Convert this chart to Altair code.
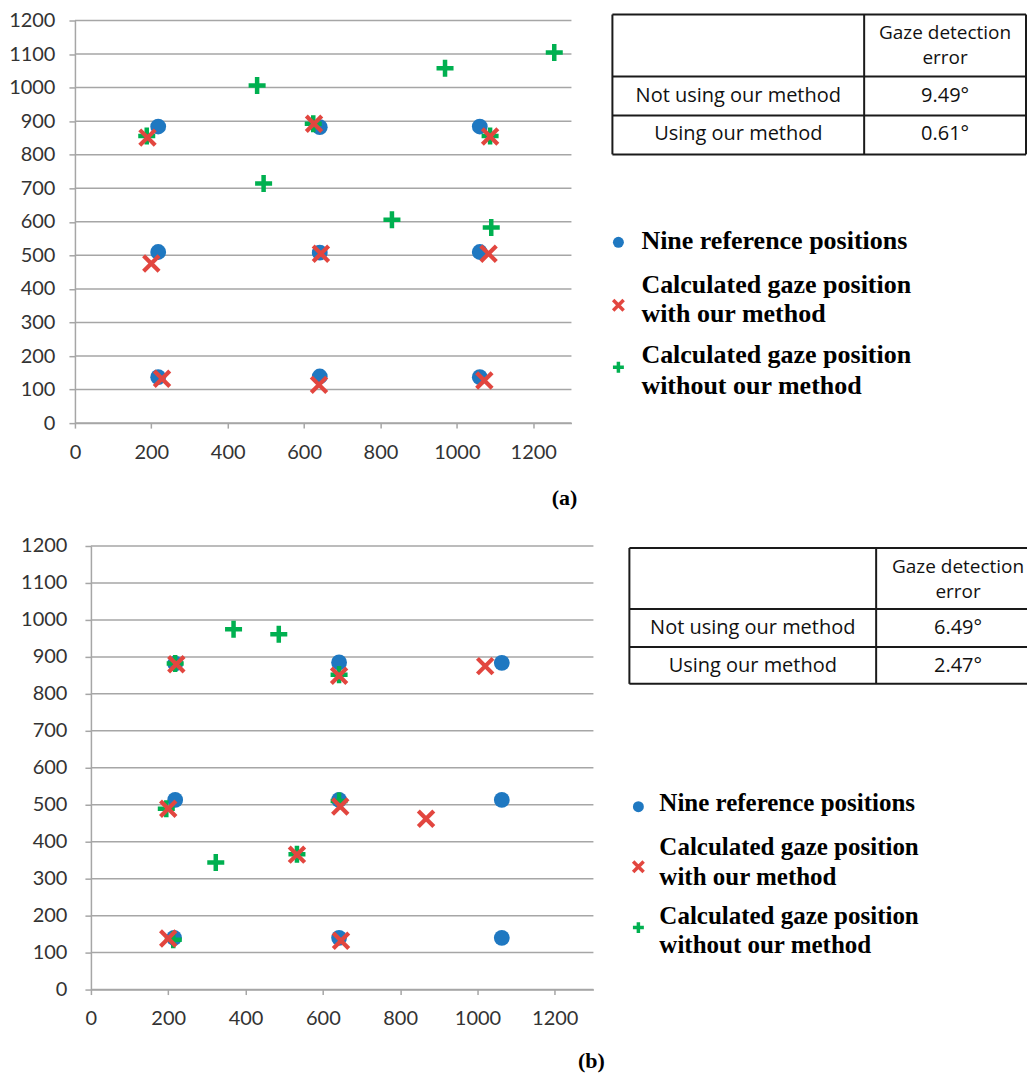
import altair as alt
import pandas as pd

# ---------------- data ----------------
# panel (a)
ref_a_x = [218, 641, 1060, 218, 641, 1060, 218, 641, 1060]
ref_a_y = [884, 882, 884, 510, 508, 510, 137, 139, 137]
with_a_x = [190, 626, 1087, 200, 644, 1083, 228, 639, 1072]
with_a_y = [851, 892, 854, 476, 505, 505, 132, 114, 127]
without_a_x = [188, 624, 1087, 477, 969, 1255, 494, 830, 1090]
without_a_y = [856, 892, 856, 1006, 1058, 1105, 714, 606, 583]

# panel (b)
ref_b_x = [218, 642, 1063, 218, 642, 1063, 215, 642, 1063]
ref_b_y = [882, 885, 884, 513, 513, 513, 140, 140, 140]
with_b_x = [221, 642, 1020, 200, 645, 867, 533, 200, 647]
with_b_y = [880, 849, 875, 489, 495, 462, 365, 138, 132]
without_b_x = [218, 642, 369, 486, 195, 642, 323, 533, 213]
without_b_y = [882, 852, 975, 961, 489, 510, 344, 366, 135]

x_ticks = [0, 200, 400, 600, 800, 1000, 1200]
y_ticks = [0, 100, 200, 300, 400, 500, 600, 700, 800, 900, 1000, 1100, 1200]

table_header = ["Gaze detection", "error"]
table_rows = ["Not using our method", "Using our method"]
errors_a = ["9.49°", "0.61°"]
errors_b = ["6.49°", "2.47°"]
legend_ref = ["Nine reference positions"]
legend_with = ["Calculated gaze position", "with our method"]
legend_without = ["Calculated gaze position", "without our method"]
panel_labels = ["(a)", "(b)"]

# ---------------- styles ----------------
BLUE = "#1f78c1"
RED = "#e2463f"
GREEN = "#00b050"
GRID = "#a6a6a6"
AXC = "#333333"
TABC = "#1a1a1a"
AXF = "Lato"
TABF = "Open Sans"
LEGF = "Liberation Serif"
X_PATH = "M-1,-1L1,1M1,-1L-1,1"
P_PATH = "M-1,0L1,0M0,-1L0,1"
ONE = alt.Data(values=[{"k": 0}])


def hline(x1, x2, y, color=TABC, w=2):
    return alt.Chart(ONE).mark_rule(color=color, strokeWidth=w).encode(
        x=alt.value(x1), x2=alt.value(x2), y=alt.value(y))


def vline(x, y1, y2, color=TABC, w=2):
    return alt.Chart(ONE).mark_rule(color=color, strokeWidth=w).encode(
        x=alt.value(x), y=alt.value(y1), y2=alt.value(y2))


def txt(x, y, s, font, size, weight="normal", align="center", color="#111111"):
    return alt.Chart(ONE).mark_text(font=font, fontSize=size, fontWeight=weight,
                                    align=align, baseline="middle", color=color).encode(
        x=alt.value(x), y=alt.value(y), text=alt.value(s))


def sym(x, y, shape, color, size, filled, sw=0):
    kw = dict(shape=shape, size=size, filled=filled, color=color, opacity=1)
    if not filled:
        kw["strokeWidth"] = sw
    return alt.Chart(ONE).mark_point(**kw).encode(x=alt.value(x), y=alt.value(y))


def panel(refx, refy, wx, wy, wox, woy, PW, H, dx, L, errors, plabel):
    # dx: horizontal shift of the plot area inside the panel frame
    xs = alt.Scale(domain=[0, 1300], range=[dx, dx + PW], nice=False, zero=False)
    ys = alt.Scale(domain=[0, 1200], nice=False, zero=False)
    xax = alt.Axis(values=x_ticks, format="d", grid=False, title=None, domainColor=GRID,
                   domainWidth=1.5, tickColor=GRID, tickWidth=1.5, tickSize=5,
                   labelFont=AXF, labelFontSize=20, labelColor=AXC,
                   labelPadding=L["xpad"], labelFlush=False, labelOverlap=False)
    yax = alt.Axis(values=y_ticks, format="d", grid=False, offset=-dx,
                   title=None, domainColor=GRID, domainWidth=1.5, tickColor=GRID,
                   tickWidth=1.5, tickSize=6, labelFont=AXF, labelFontSize=20,
                   labelColor=AXC, labelPadding=L["ypad"], labelFlush=False,
                   labelOverlap=False)

    def enc(c):
        return c.encode(x=alt.X("x:Q", scale=xs, axis=xax),
                        y=alt.Y("y:Q", scale=ys, axis=yax))

    grid = alt.Chart(pd.DataFrame({"y": y_ticks})).mark_rule(
        color=GRID, strokeWidth=1.5).encode(
        y=alt.Y("y:Q", scale=ys, axis=yax), x=alt.value(dx), x2=alt.value(dx + PW))
    ref = enc(alt.Chart(pd.DataFrame({"x": refx, "y": refy})).mark_point(
        shape="circle", filled=True, size=250, color=BLUE, opacity=1))
    wo = enc(alt.Chart(pd.DataFrame({"x": wox, "y": woy})).mark_point(
        shape=P_PATH, filled=False, size=290, strokeWidth=4.5, color=GREEN, opacity=1))
    w = enc(alt.Chart(pd.DataFrame({"x": wx, "y": wy})).mark_point(
        shape=X_PATH, filled=False, size=240, strokeWidth=4.2, color=RED, opacity=1))

    layers = [grid, ref, wo, w]
    # table
    t = L["tab"]
    layers += [hline(t["x1"] + dx, t["x2"] + dx, y) for y in t["rows"]]
    layers += [vline(x + dx, t["rows"][0], t["rows"][-1]) for x in t["cols"]]
    c1 = (t["cols"][0] + t["cols"][1]) / 2 + dx
    c2 = t["c2"] + dx
    layers += [txt(c2, t["hy"][0], table_header[0], TABF, 19),
               txt(c2, t["hy"][1], table_header[1], TABF, 19),
               txt(c1, t["ry"][0], table_rows[0], TABF, 20),
               txt(c2, t["ry"][0], errors[0], TABF, 20),
               txt(c1, t["ry"][1], table_rows[1], TABF, 20),
               txt(c2, t["ry"][1], errors[1], TABF, 20)]
    # legend
    g = L["leg"]
    fs = g["fs"]
    sx = g["sx"] + dx
    tx = g["tx"] + dx
    layers += [sym(sx, g["dot"], "circle", BLUE, 120, True),
               sym(sx, g["xm"], X_PATH, RED, 110, False, 3.5),
               sym(sx, g["pm"], P_PATH, GREEN, 120, False, 3.5),
               txt(tx, g["ly"][0], legend_ref[0], LEGF, fs, "bold", "left", "#000000"),
               txt(tx, g["ly"][1], legend_with[0], LEGF, fs, "bold", "left", "#000000"),
               txt(tx, g["ly"][2], legend_with[1], LEGF, fs, "bold", "left", "#000000"),
               txt(tx, g["ly"][3], legend_without[0], LEGF, fs, "bold", "left", "#000000"),
               txt(tx, g["ly"][4], legend_without[1], LEGF, fs, "bold", "left", "#000000")]
    # panel label
    layers.append(txt(L["plab"][0] + dx, L["plab"][1], plabel, LEGF, 22, "bold",
                      "center", "#000000"))
    # invisible layout anchors
    for (ax, ay) in L["anchors"]:
        layers.append(hline(ax, ax + 4, ay, color="#ffffff", w=1))
    return alt.layer(*layers).properties(width=PW + dx, height=H)


LA = {
    "xpad": 14, "ypad": 14,
    "tab": {"x1": 538, "x2": 952, "rows": [-6, 56, 95, 134], "cols": [538, 790, 952],
            "c2": 871, "hy": [13, 38], "ry": [76, 114]},
    "leg": {"fs": 26, "sx": 544, "dot": 222, "xm": 285, "pm": 347, "tx": 567,
            "ly": [221, 265, 294, 335, 366]},
    "plab": (490, 478),
    "anchors": [(-65, -11), (0, 495)],
}
LB = {
    "xpad": 14, "ypad": 18,
    "tab": {"x1": 539, "x2": 937, "rows": [2, 63, 101, 138], "cols": [539, 786],
            "c2": 868, "hy": [21, 46], "ry": [82, 120]},
    "leg": {"fs": 25, "sx": 548, "dot": 261, "xm": 321, "pm": 382, "tx": 569,
            "ly": [257, 301, 331, 370, 399]},
    "plab": (501, 516),
    "anchors": [(-49, -11)],
}

top = panel(ref_a_x, ref_a_y, with_a_x, with_a_y, without_a_x, without_a_y,
            497, 403, 0, LA, errors_a, panel_labels[0])
bottom = panel(ref_b_x, ref_b_y, with_b_x, with_b_y, without_b_x, without_b_y,
               503, 444, 16, LB, errors_b, panel_labels[1])

chart = alt.vconcat(top, bottom, spacing=18).properties(
    padding=0).configure_view(stroke=None)
chart.save("out.html", embed_options={"renderer": "svg", "actions": False})
